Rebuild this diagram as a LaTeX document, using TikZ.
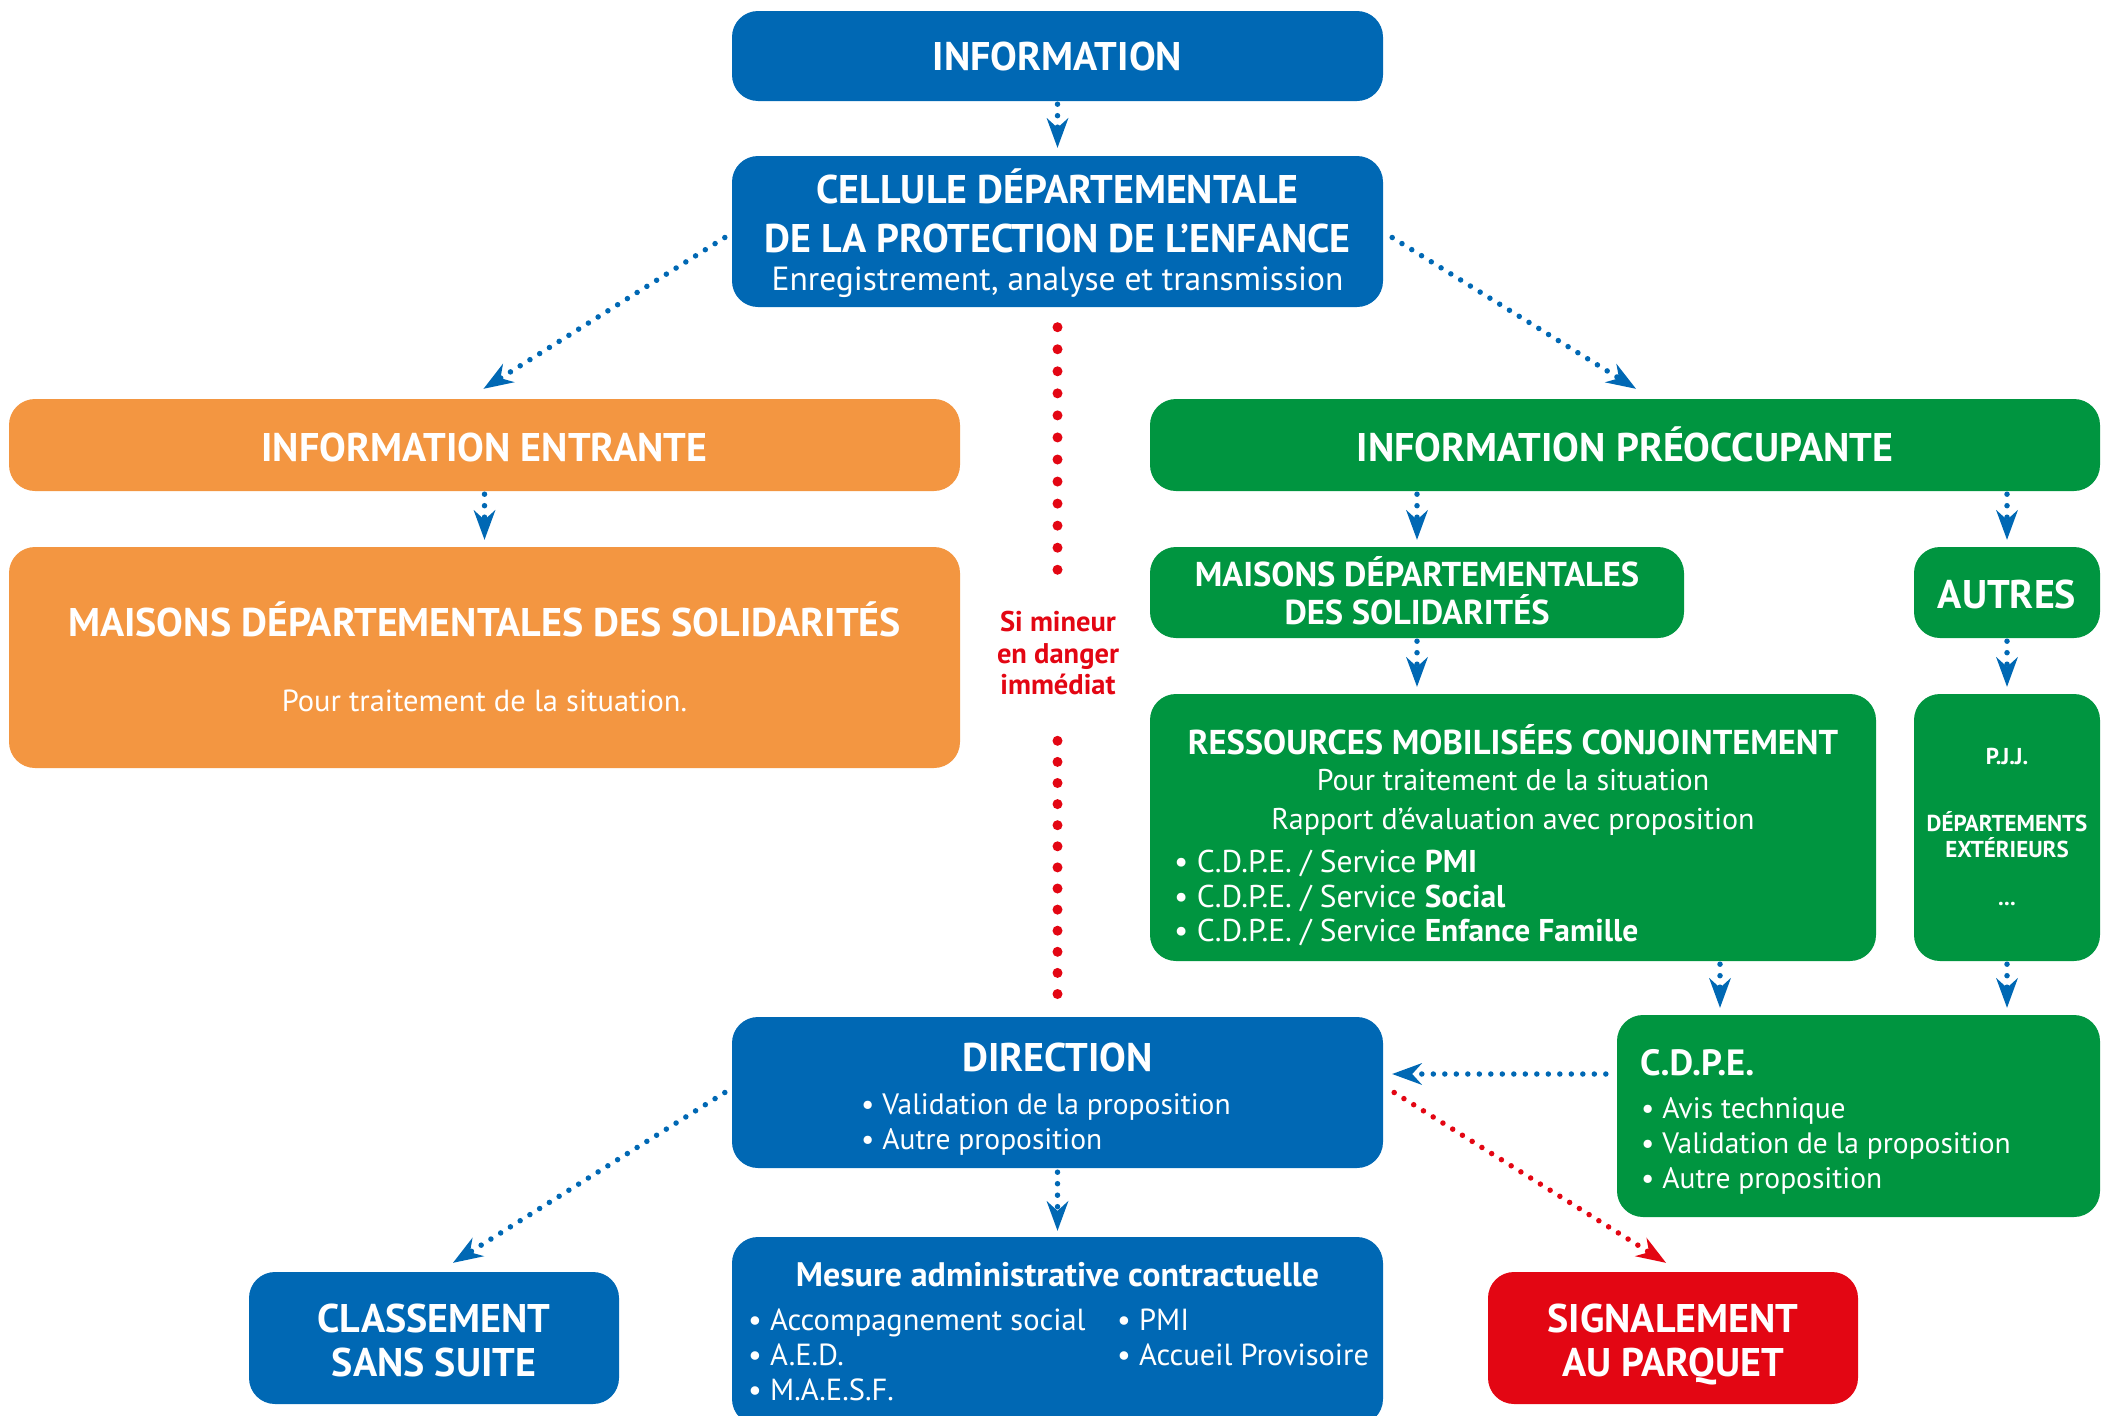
\documentclass[tikz,border=0pt]{standalone}
\usepackage{fontspec}
\setmainfont{PT Sans}
\usetikzlibrary{arrows.meta}
\definecolor{cblue}{RGB}{0,104,180}
\definecolor{corange}{RGB}{243,150,65}
\definecolor{cgreen}{RGB}{0,149,64}
\definecolor{cred}{RGB}{227,6,19}
\begin{document}
\begin{tikzpicture}[x=1pt,y=-1pt,
  box/.style={rectangle, rounded corners=26pt, fill=#1, draw=none, inner sep=0pt},
  ttl/.style={text=white, anchor=base, inner sep=0pt, font=\bfseries\fontsize{40}{44}\selectfont},
  sub/.style={text=white, anchor=base, inner sep=0pt, font=\bfseries\fontsize{34.5}{38}\selectfont},
  reg/.style={text=white, anchor=base, inner sep=0pt, font=\fontsize{30}{34}\selectfont},
  bul/.style={text=white, anchor=base west, inner sep=0pt, font=\fontsize{29.5}{34}\selectfont},
  sml/.style={text=white, anchor=base, inner sep=0pt, font=\bfseries\fontsize{23}{26}\selectfont},
  redt/.style={text=cred, anchor=base, inner sep=0pt, font=\bfseries\fontsize{28.5}{32}\selectfont},
  barrow/.style={draw=cblue, line width=5.5pt, line cap=round, dash pattern=on 0pt off 11.5pt,
     -{Stealth[length=30pt,width=22pt,inset=10pt,fill=cblue,line width=0pt]}},
  rarrow/.style={draw=cred, line width=5.5pt, line cap=round, dash pattern=on 0pt off 11.5pt,
     -{Stealth[length=30pt,width=22pt,inset=10pt,fill=cred,line width=0pt]}},
  rdots/.style={draw=cred, line width=10pt, line cap=round, dash pattern=on 0pt off #1},
  rdots/.default=22pt
]
\useasboundingbox (0,0) rectangle (2102,1416);

% ---------- boxes ----------
\node[box=cblue, minimum width=651pt, minimum height=90pt] (info) at (1057.5,56) {};
\node[box=cblue, minimum width=651pt, minimum height=151pt] (cellule) at (1057.5,231.5) {};
\node[box=corange, minimum width=951pt, minimum height=92pt] (entrante) at (484.5,445) {};
\node[box=corange, minimum width=951pt, minimum height=221pt] (mdso) at (484.5,657.5) {};
\node[box=cgreen, minimum width=950pt, minimum height=92pt] (preoc) at (1625,445) {};
\node[box=cgreen, minimum width=534pt, minimum height=91pt] (mdsg) at (1417,592.5) {};
\node[box=cgreen, minimum width=186pt, minimum height=91pt] (autres) at (2007,592.5) {};
\node[box=cgreen, minimum width=726pt, minimum height=267pt] (ress) at (1513,827.5) {};
\node[box=cgreen, minimum width=186pt, minimum height=267pt] (pjj) at (2007,827.5) {};
\node[box=cblue, minimum width=651pt, minimum height=151pt] (direction) at (1057.5,1092.5) {};
\node[box=cgreen, minimum width=483pt, minimum height=202pt] (cdpe) at (1858.5,1116) {};
\node[box=cblue, minimum width=370pt, minimum height=132pt] (classement) at (434,1338) {};
\node[box=cblue, minimum width=651pt, minimum height=188pt] (mesure) at (1057.5,1331) {};
\node[box=cred, minimum width=370pt, minimum height=132pt] (signal) at (1673,1338) {};

% ---------- texts ----------
\node[ttl] (t1) at (1057.5,70) {INFORMATION};
\node[ttl] (t2) at (1057.5,203) {CELLULE DÉPARTEMENTALE};
\node[ttl] (t3) at (1057.5,252) {DE LA PROTECTION DE L’ENFANCE};
\node[reg, font=\fontsize{33.5}{38}\selectfont] (t4) at (1057.5,290) {Enregistrement, analyse et transmission};
\node[ttl] (t5) at (484.5,461) {INFORMATION ENTRANTE};
\node[ttl] (t6) at (484.5,636) {MAISONS DÉPARTEMENTALES DES SOLIDARITÉS};
\node[reg, font=\fontsize{30.5}{34}\selectfont] (t7) at (484.5,711) {Pour traitement de la situation.};
\node[ttl] (t8) at (1625,461) {INFORMATION PRÉOCCUPANTE};
\node[sub] (t9) at (1417,586) {MAISONS DÉPARTEMENTALES};
\node[sub] (t10) at (1417,624) {DES SOLIDARITÉS};
\node[ttl] (t11) at (2007,608) {AUTRES};
\node[sub] (t12) at (1513,754) {RESSOURCES MOBILISÉES CONJOINTEMENT};
\node[reg] (t13) at (1513,790) {Pour traitement de la situation};
\node[reg] (t14) at (1513,829) {Rapport d’évaluation avec proposition};
\node[bul, font=\fontsize{31.5}{36}\selectfont] (t15) at (1174,872) {• C.D.P.E. / Service \textbf{PMI}};
\node[bul, font=\fontsize{31.5}{36}\selectfont] (t16) at (1174,907) {• C.D.P.E. / Service \textbf{Social}};
\node[bul, font=\fontsize{31.5}{36}\selectfont] (t17) at (1174,941) {• C.D.P.E. / Service \textbf{Enfance Famille}};
\node[sml] (t18) at (2007,764) {P.J.J.};
\node[sml] (t19) at (2007,831) {DÉPARTEMENTS};
\node[sml] (t20) at (2007,857) {EXTÉRIEURS};
\node[sml] (t21) at (2007,905) {...};
\node[ttl] (t22) at (1057.5,1071) {DIRECTION};
\node[bul] (t23) at (861,1114) {• Validation de la proposition};
\node[bul] (t24) at (861,1149) {• Autre proposition};
\node[ttl, anchor=base west, font=\bfseries\fontsize{36.5}{40}\selectfont] (t25) at (1640,1075) {C.D.P.E.};
\node[bul] (t26) at (1641,1118) {• Avis technique};
\node[bul] (t27) at (1641,1153) {• Validation de la proposition};
\node[bul] (t28) at (1641,1188) {• Autre proposition};
\node[ttl] (t29) at (434,1332) {CLASSEMENT};
\node[ttl] (t30) at (434,1376) {SANS SUITE};
\node[ttl] (t31) at (1673,1332) {SIGNALEMENT};
\node[ttl] (t32) at (1673,1376) {AU PARQUET};
\node[sub, font=\bfseries\fontsize{34}{38}\selectfont] (t33) at (1057.5,1286) {Mesure administrative contractuelle};
\node[bul, font=\fontsize{30.5}{34}\selectfont] (t34) at (748,1330) {• Accompagnement social};
\node[bul, font=\fontsize{30.5}{34}\selectfont] (t35) at (748,1365) {• A.E.D.};
\node[bul, font=\fontsize{30.5}{34}\selectfont] (t36) at (748,1400) {• M.A.E.S.F.};
\node[bul, font=\fontsize{30.5}{34}\selectfont] (t37) at (1117,1330) {• PMI};
\node[bul, font=\fontsize{30.5}{34}\selectfont] (t38) at (1117,1365) {• Accueil Provisoire};
\node[redt] (si1) at (1058,631) {Si mineur};
\node[redt] (si2) at (1058,663) {en danger};
\node[redt] (si3) at (1058,694) {immédiat};

% ---------- connectors ----------
\coordinate (xr) at (1720,0);
\coordinate (hy) at (0,1074);
\draw[barrow, shorten <=3pt, shorten >=8pt] (info.south) -- (cellule.north);
\draw[barrow] ([shift={(-7pt,-6pt)}]cellule.west) -- ([shift={(-1pt,10pt)}]entrante.north);
\draw[barrow] ([shift={(9pt,-6pt)}]cellule.east) -- ([shift={(11pt,10pt)}]preoc.north);
\draw[barrow, shorten <=3pt, shorten >=7pt] (entrante.south) -- (mdso.north);
\draw[barrow, shorten <=3pt, shorten >=7pt] (mdsg.south |- preoc.south) -- (mdsg.north);
\draw[barrow, shorten <=3pt, shorten >=7pt] (autres.south |- preoc.south) -- (autres.north);
\draw[barrow, shorten <=3pt, shorten >=7pt] (mdsg.south) -- (ress.north -| mdsg.south);
\draw[barrow, shorten <=3pt, shorten >=7pt] (autres.south) -- (pjj.north);
\draw[barrow, shorten <=3pt, shorten >=7pt] (ress.south -| xr) -- (cdpe.north -| xr);
\draw[barrow, shorten <=3pt, shorten >=7pt] (pjj.south) -- (cdpe.north -| pjj.south);
\draw[barrow, shorten <=11pt, shorten >=9pt] (cdpe.west |- hy) -- (direction.east |- hy);
\draw[barrow, shorten <=4pt, shorten >=6pt] (direction.south) -- (mesure.north);
\draw[barrow] ([xshift=-7pt]direction.west) -- ([shift={(19pt,9pt)}]classement.north);
\draw[rarrow] ([xshift=11pt]direction.east) -- ([shift={(-7pt,9pt)}]signal.north);
\draw[rdots=22.05pt, shorten <=20pt] (cellule.south) -- ([yshift=-263pt]cellule.south);
\draw[rdots=21.1pt, shorten >=22pt] ([yshift=276pt]direction.north) -- (direction.north);
\end{tikzpicture}
\end{document}
